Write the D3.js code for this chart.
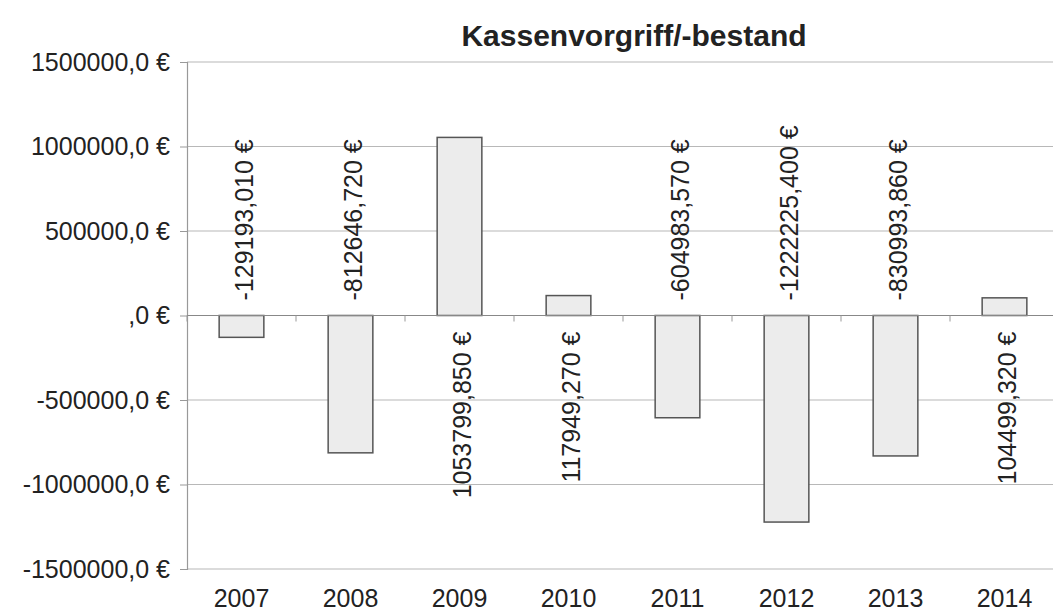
<!DOCTYPE html>
<html>
<head>
<meta charset="utf-8">
<script src="https://cdn.jsdelivr.net/npm/d3@7"></script>
<style>
  body { margin: 0; background: #fff; }
  svg text { font-family: "Liberation Sans", Arial, sans-serif; fill: #222; }
</style>
</head>
<body>
<div id="chart"></div>
<script>
const years = ["2007", "2008", "2009", "2010", "2011", "2012", "2013", "2014"];
const values = [-129193.01, -812646.72, 1053799.85, 117949.27, -604983.57, -1222225.40, -830993.86, 104499.32];
const yTicks = [1500000, 1000000, 500000, 0, -500000, -1000000, -1500000];
const title = "Kassenvorgriff/-bestand";

const width = 1053;
const height = 616;
const plotLeft = 187, plotRight = 1059, plotTop = 62, plotBottom = 569;

const svg = d3.select("#chart")
    .append("svg")
    .attr("width", width)
    .attr("height", height);

const x = d3.scaleBand()
    .domain(years)
    .range([plotLeft, plotRight])
    .paddingInner(0.59)
    .paddingOuter(0.295);

const y = d3.scaleLinear()
    .domain([-1500000, 1500000])
    .range([plotBottom, plotTop]);

// euro formatting like the original: ",0 €", "1500000,0 €"
function tickLabel(d) {
    if (d === 0) return ",0 €";
    return d.toFixed(1).replace(".", ",") + " €";
}
function valueLabel(d) {
    return d.toFixed(3).replace(".", ",") + " €";
}

// gridlines
svg.append("g")
    .selectAll("line")
    .data(yTicks)
    .enter()
    .append("line")
    .attr("x1", plotLeft)
    .attr("x2", width)
    .attr("y1", d => y(d))
    .attr("y2", d => y(d))
    .attr("stroke", "#b8b8b8")
    .attr("stroke-width", 1.2);

// y axis
const yAxis = svg.append("g")
    .attr("transform", `translate(${plotLeft},0)`)
    .call(d3.axisLeft(y).tickValues(yTicks).tickSize(7).tickPadding(10).tickFormat(tickLabel));
yAxis.select(".domain").attr("stroke", "#999").attr("stroke-width", 1.2);
yAxis.selectAll(".tick line").attr("stroke", "#999");
yAxis.selectAll("text")
    .style("font-size", "25px")
    .style("font-family", "Liberation Sans, Arial, sans-serif")
    .attr("fill", "#2a2a2a");

// bars
svg.append("g")
    .selectAll("rect")
    .data(values)
    .enter()
    .append("rect")
    .attr("x", (d, i) => x(years[i]))
    .attr("y", d => y(Math.max(0, d)))
    .attr("width", x.bandwidth())
    .attr("height", d => Math.abs(y(d) - y(0)))
    .attr("fill", "#ececec")
    .attr("stroke", "#555")
    .attr("stroke-width", 1.5);

// zero axis with ticks between categories
const step = x.step();
const zeroTicks = d3.range(years.length + 1).map(i => plotLeft + i * step);
svg.append("line")
    .attr("x1", plotLeft)
    .attr("x2", width)
    .attr("y1", y(0))
    .attr("y2", y(0))
    .attr("stroke", "#888")
    .attr("stroke-width", 1.2);
svg.append("g")
    .selectAll("line")
    .data(zeroTicks)
    .enter()
    .append("line")
    .attr("x1", d => d)
    .attr("x2", d => d)
    .attr("y1", y(0))
    .attr("y2", y(0) + 6)
    .attr("stroke", "#999");

// value labels, rotated, on the opposite side of the zero line
svg.append("g")
    .selectAll("text")
    .data(values)
    .enter()
    .append("text")
    .attr("transform", (d, i) => {
        const cx = x(years[i]) + x.bandwidth() / 2 + 3;
        const cy = d < 0 ? y(0) - 15 : y(0) + 16;
        return `translate(${cx},${cy}) rotate(-90)`;
    })
    .attr("text-anchor", d => d < 0 ? "start" : "end")
    .attr("dy", ".35em")
    .style("font-size", "25px")
    .text(d => valueLabel(d));

// category labels
svg.append("g")
    .selectAll("text")
    .data(years)
    .enter()
    .append("text")
    .attr("x", d => x(d) + x.bandwidth() / 2)
    .attr("y", 607)
    .attr("text-anchor", "middle")
    .style("font-size", "25px")
    .text(d => d);

// title
svg.append("text")
    .attr("x", 634)
    .attr("y", 46)
    .attr("text-anchor", "middle")
    .style("font-size", "30px")
    .style("font-weight", "bold")
    .text(title);
</script>
</body>
</html>
